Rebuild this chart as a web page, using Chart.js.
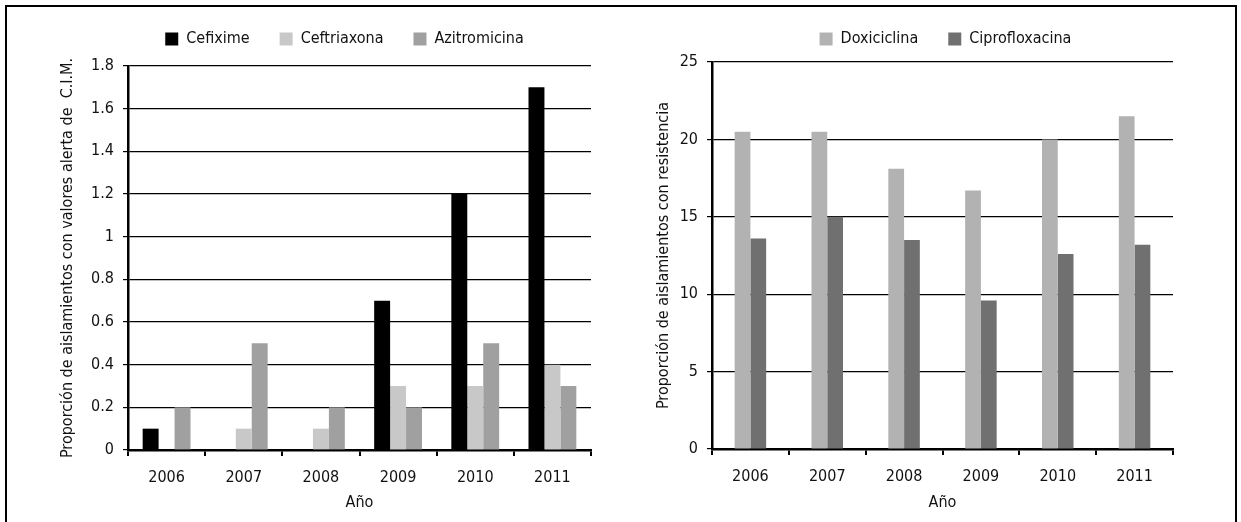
<!DOCTYPE html>
<html>
<head>
<meta charset="utf-8">
<script src="https://cdn.jsdelivr.net/npm/chart.js@4/dist/chart.umd.min.js"></script>
<style>
  html, body { margin: 0; padding: 0; background: #fff; }
  body { width: 1241px; height: 522px; position: relative; overflow: hidden; }
  #frame { position: absolute; left: 5px; top: 5px; width: 1228px; height: 600px; border: 2px solid #000; }
  .box { position: absolute; top: 0; height: 522px; }
  #leftBox { left: 0; width: 620px; }
  #rightBox { left: 620px; width: 621px; }
</style>
</head>
<body>
<div id="frame"></div>
<div class="box" id="leftBox"><canvas id="leftChart" width="620" height="522"></canvas></div>
<div class="box" id="rightBox"><canvas id="rightChart" width="621" height="522"></canvas></div>
<script>
// data
const years = ['2006', '2007', '2008', '2009', '2010', '2011'];
const cefixime = [0.1, 0, 0, 0.7, 1.2, 1.7];
const ceftriaxona = [0, 0.1, 0.1, 0.3, 0.3, 0.4];
const azitromicina = [0.2, 0.5, 0.2, 0.2, 0.5, 0.3];
const doxiciclina = [20.5, 20.5, 18.1, 16.7, 20.0, 21.5];
const ciprofloxacina = [13.6, 15.0, 13.5, 9.6, 12.6, 13.2];
const leftTicks = [0, 0.2, 0.4, 0.6, 0.8, 1, 1.2, 1.4, 1.6, 1.8];
const rightTicks = [0, 5, 10, 15, 20, 25];

Chart.defaults.font.family = "'Liberation Sans Narrow', 'Arial Narrow', 'DejaVu Sans Condensed', sans-serif";
Chart.defaults.font.size = 16;
Chart.defaults.color = '#111';
Chart.defaults.animation = false;

// move the legend a bit after layout, so it sits where the original has it
const legendNudge = {
  id: 'legendNudge',
  afterLayout(chart, args, opts) {
    const l = chart.legend;
    l.left += opts.dx; l.right += opts.dx;
    l.top += opts.dy; l.bottom += opts.dy;
  }
};

function makeChart(id, datasets, ticks, yTitle, o) {
  return new Chart(document.getElementById(id), {
    type: 'bar',
    data: { labels: years, datasets: datasets },
    plugins: [legendNudge],
    options: {
      responsive: false,
      layout: { padding: o.padding },
      datasets: { bar: { barPercentage: 1, categoryPercentage: o.cat, borderWidth: 0 } },
      plugins: {
        tooltip: { enabled: false },
        legendNudge: { dx: o.dx, dy: o.dy },
        legend: {
          position: 'top',
          fullSize: false,
          labels: { boxWidth: 13, boxHeight: 13, padding: 30 }
        }
      },
      scales: {
        x: {
          grid: { display: true, drawOnChartArea: false, drawTicks: true, tickLength: 6, color: '#000', lineWidth: 2, offset: true },
          border: { display: true, color: '#000', width: 2.5 },
          ticks: { padding: 12, maxRotation: 0 },
          title: { display: true, text: 'Año', padding: { top: 0, bottom: 0 } },
          afterFit: s => { s.height = o.xHeight; }
        },
        y: {
          min: ticks[0],
          max: ticks[ticks.length - 1],
          afterBuildTicks: s => { s.ticks = ticks.map(v => ({ value: v })); },
          grid: { color: '#000', lineWidth: 1.2, drawTicks: true, tickLength: 5, tickColor: '#000' },
          border: { display: true, color: '#000', width: 2.5 },
          ticks: { padding: 9, callback: v => String(v) },
          title: { display: true, text: yTitle, padding: { top: o.yTitlePad, bottom: 0 } },
          afterFit: s => { s.width = o.yWidth; }
        }
      }
    }
  });
}

makeChart('leftChart', [
  { label: 'Cefixime', data: cefixime, backgroundColor: '#000000' },
  { label: 'Ceftriaxona', data: ceftriaxona, backgroundColor: '#c8c8c8' },
  { label: 'Azitromicina', data: azitromicina, backgroundColor: '#a0a0a0' }
], leftTicks, 'Proporción de aislamientos con valores alerta de  C.I.M.', {
  padding: { left: 40, right: 29, top: 10, bottom: 10 },
  yWidth: 88, yTitlePad: 18, cat: 0.62, xHeight: 62, dx: -15, dy: -9
});

makeChart('rightChart', [
  { label: 'Doxiciclina', data: doxiciclina, backgroundColor: '#b2b2b2' },
  { label: 'Ciprofloxacina', data: ciprofloxacina, backgroundColor: '#707070' }
], rightTicks, 'Proporción de aislamientos con resistencia', {
  padding: { left: 30, right: 68, top: 6, bottom: 10 },
  yWidth: 62, yTitlePad: 4, cat: 0.41, xHeight: 63, dx: 3, dy: -5
});
</script>
</body>
</html>
